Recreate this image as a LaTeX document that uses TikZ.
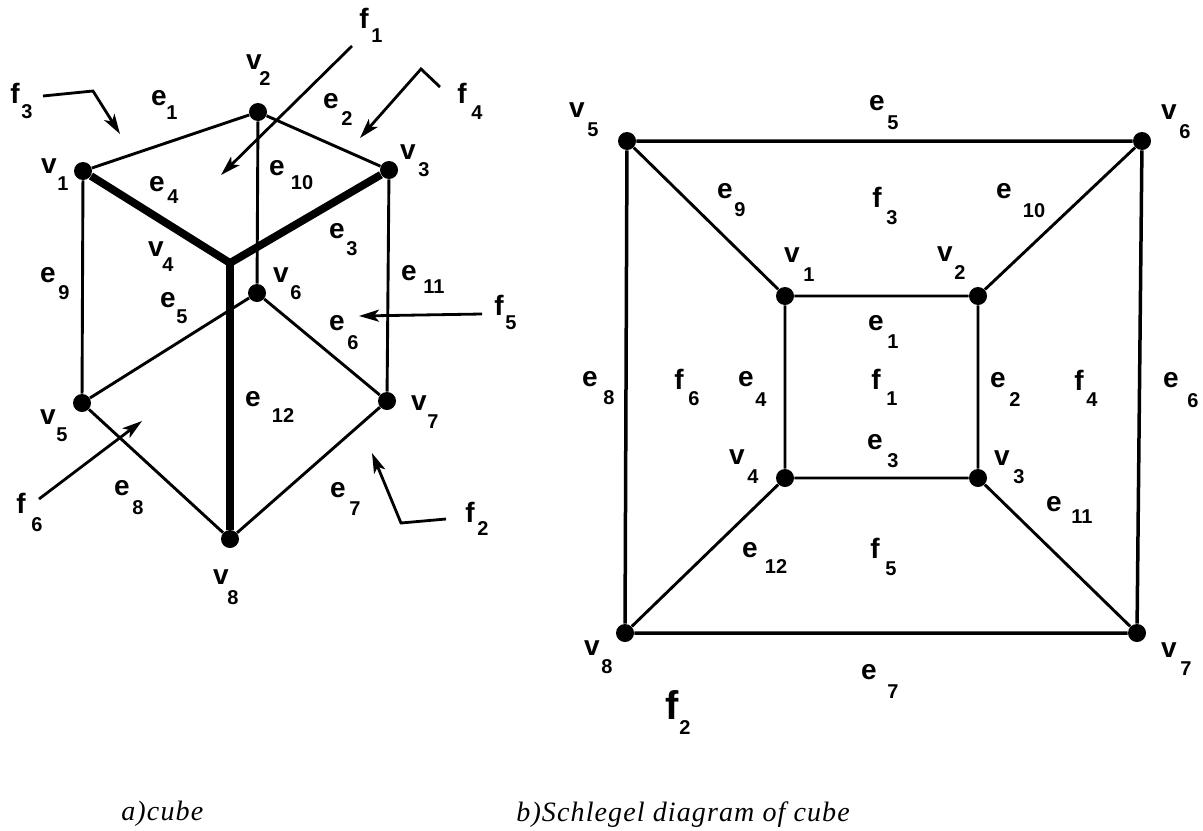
\documentclass[tikz,border=0pt]{standalone}
\usepackage{fontspec}
\setmainfont{Liberation Sans}
\newfontfamily\capfont[LetterSpace=4]{Liberation Serif}
\usetikzlibrary{arrows.meta}
\tikzset{
 x=0.5pt,y=-0.5pt,
 vtx/.style={circle,fill=black,inner sep=0pt,minimum size=9pt},
 thinedge/.style={line width=1.45pt},
 thickedge/.style={line width=3.9pt,miter limit=10},
 midedge/.style={line width=1.75pt},
 ptr/.style={line width=1.4pt,-{Stealth[length=10pt,width=6pt,inset=2.5pt]}},
 lab/.style={font=\bfseries\fontsize{14}{15}\selectfont,inner sep=0pt},
 sublab/.style={font=\bfseries\fontsize{10}{11}\selectfont,inner sep=0pt},
 captext/.style={font=\capfont\itshape\fontsize{14}{15}\selectfont,inner sep=0pt,anchor=base west}
}
\newcommand{\lbl}[7]{\node[lab] (#1#2#3) at (#4,#5) {#2};\node[sublab] (#1#2#3s) at (#6,#7) {#3};}
\begin{document}
\begin{tikzpicture}
\useasboundingbox (0,0) rectangle (1203,830);
\foreach \n/\x/\y in {a1/83/171,a2/258/112,a3/389/170,a5/82/403,a6/257/293,a7/387/401,a8/230/539,
 b1/785/296,b2/978/296,b3/978/478,b4/785/478,b5/627/141,b6/1142/141,b7/1137/633,b8/625/633}
 \node[vtx] (\n) at (\x,\y) {};
\coordinate (a4) at (230,263);
\draw[thinedge] (a1)--(a2) (a2)--(a3) (a2)--(a6) (a1)--(a5) (a3)--(a7) (a5)--(a6) (a6)--(a7) (a5)--(a8) (a7)--(a8);
\draw[thickedge] (a1)--(a4)--(a3);
\draw[thickedge] (a4)--(a8);
\draw[thinedge] (b1)--(b2) (b2)--(b3) (b3)--(b4) (b4)--(b1) (b1)--(b5) (b2)--(b6) (b3)--(b7) (b4)--(b8);
\draw[midedge] (b5)--(b6) (b6)--(b7) (b7)--(b8) (b8)--(b5);
\coordinate (p1a) at (352,46); \coordinate (p1b) at (221,175);
\coordinate (p3a) at (43,96); \coordinate (p3m) at (93,91); \coordinate (p3b) at (120,134);
\coordinate (p4a) at (440,87); \coordinate (p4m) at (421,69); \coordinate (p4b) at (360,138);
\coordinate (p5a) at (482,314); \coordinate (p5b) at (359,316);
\coordinate (p6a) at (39,499); \coordinate (p6b) at (142,421);
\coordinate (p2a) at (446,519); \coordinate (p2m) at (401,523); \coordinate (p2b) at (372,453);
\draw[ptr] (p1a)--(p1b);
\draw[ptr] (p3a)--(p3m)--(p3b);
\draw[ptr] (p4a)--(p4m)--(p4b);
\draw[ptr] (p5a)--(p5b);
\draw[ptr] (p6a)--(p6b);
\draw[ptr] (p2a)--(p2m)--(p2b);
% left labels
\lbl{a}{f}{1}{364}{18}{377}{36}
\lbl{a}{v}{2}{254}{62}{265}{79}
\lbl{a}{f}{3}{15}{93}{27}{112}
\lbl{a}{f}{4}{462}{93}{477}{113}
\lbl{a}{e}{1}{159}{98}{172}{113}
\lbl{a}{e}{2}{331}{101}{347}{119}
\lbl{a}{v}{1}{49}{166}{63}{184}
\lbl{a}{v}{3}{408}{152}{424}{170}
\lbl{a}{e}{4}{157}{184}{173}{197}
\lbl{a}{e}{10}{277}{168}{302}{183}
\lbl{a}{v}{4}{156}{249}{168}{265}
\lbl{a}{e}{3}{337}{231}{352}{249}
\lbl{a}{e}{9}{48}{275}{64}{293}
\lbl{a}{e}{5}{168}{300}{182}{317}
\lbl{a}{v}{6}{281}{275}{296}{293}
\lbl{a}{e}{11}{409}{273}{434}{287}
\lbl{a}{e}{6}{337}{323}{353}{343}
\lbl{a}{f}{5}{499}{305}{511}{323}
\lbl{a}{e}{12}{253}{399}{283}{416}
\lbl{a}{v}{5}{48}{417}{62}{435}
\lbl{a}{v}{7}{419}{403}{433}{422}
\lbl{a}{f}{6}{21}{503}{37}{525}
\lbl{a}{e}{8}{122}{488}{138}{508}
\lbl{a}{e}{7}{338}{490}{355}{509}
\lbl{a}{f}{2}{470}{512}{483}{529}
\lbl{a}{v}{8}{221}{577}{233}{598}
% right labels
\lbl{b}{v}{5}{577}{110}{593}{130}
\lbl{b}{e}{5}{877}{103}{893}{123}
\lbl{b}{v}{6}{1169}{112}{1185}{132}
\lbl{b}{e}{9}{725}{191}{740}{210}
\lbl{b}{f}{3}{877}{197}{892}{218}
\lbl{b}{e}{10}{1004}{191}{1034}{211}
\lbl{b}{v}{1}{792}{255}{809}{275}
\lbl{b}{v}{2}{945}{254}{960}{273}
\lbl{b}{e}{1}{876}{323}{893}{342}
\lbl{b}{e}{8}{590}{379}{609}{398}
\lbl{b}{f}{6}{679}{379}{694}{399}
\lbl{b}{e}{4}{746}{379}{761}{400}
\lbl{b}{f}{1}{876}{379}{892}{399}
\lbl{b}{e}{2}{998}{380}{1015}{400}
\lbl{b}{f}{4}{1079}{380}{1092}{400}
\lbl{b}{e}{6}{1171}{380}{1193}{401}
\lbl{b}{e}{3}{875}{442}{893}{461}
\lbl{b}{v}{4}{737}{457}{753}{477}
\lbl{b}{v}{3}{1002}{458}{1019}{477}
\lbl{b}{e}{11}{1054}{504}{1082}{517}
\lbl{b}{e}{12}{750}{550}{776}{567}
\lbl{b}{f}{5}{875}{548}{891}{569}
\lbl{b}{v}{8}{592}{648}{607}{667}
\lbl{b}{v}{7}{1169}{650}{1186}{669}
\lbl{b}{e}{7}{869}{672}{893}{692}
\node[lab,font=\bfseries\fontsize{20}{21}\selectfont] (bf2) at (672,705) {f};
\node[sublab] (bf2s) at (685,728) {2};
\node[captext] (capa) at (121,820) {a)cube};
\node[captext] (capb) at (516,821) {b)Schlegel diagram of cube};
\end{tikzpicture}
\end{document}
